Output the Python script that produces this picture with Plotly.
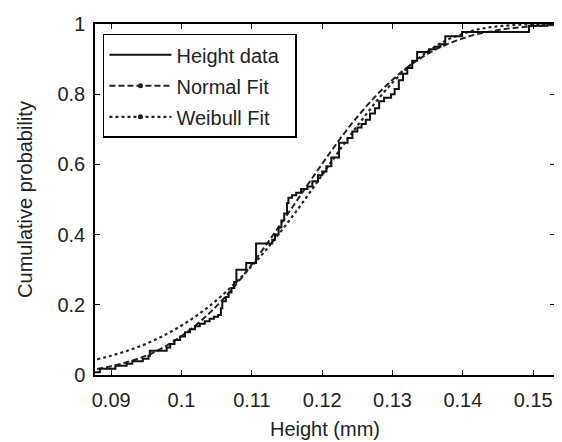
from plotly import graph_objs as go

# empirical CDF of the height data (jump positions and level after each jump)
height_x = [0.0877, 0.0884, 0.0906, 0.0922, 0.0930, 0.0945, 0.0953, 0.0955, 0.0979, 0.0984,
            0.0990, 0.0998, 0.1005, 0.1012, 0.1019, 0.1026, 0.1033, 0.1040, 0.1046, 0.1052,
            0.1056, 0.1058, 0.1063, 0.1067, 0.1071, 0.1075, 0.1078, 0.1092, 0.1106, 0.1129,
            0.1133, 0.1138, 0.1142, 0.1146, 0.1150, 0.1152, 0.1157, 0.1163, 0.1170, 0.1179,
            0.1186, 0.1194, 0.1200, 0.1206, 0.1213, 0.1224, 0.1236, 0.1243, 0.1250, 0.1256,
            0.1262, 0.1268, 0.1275, 0.1281, 0.1288, 0.1298, 0.1303, 0.1309, 0.1315, 0.1321,
            0.1328, 0.1335, 0.1352, 0.1360, 0.1368, 0.1375, 0.1399, 0.1494, 0.1520, 0.1531]
height_p = [0.008, 0.018, 0.026, 0.032, 0.039, 0.046, 0.055, 0.069, 0.078, 0.088,
            0.100, 0.110, 0.122, 0.130, 0.139, 0.146, 0.153, 0.160, 0.166, 0.171,
            0.190, 0.210, 0.222, 0.235, 0.248, 0.265, 0.300, 0.319, 0.375, 0.385,
            0.400, 0.420, 0.440, 0.460, 0.490, 0.505, 0.512, 0.519, 0.530, 0.537,
            0.552, 0.569, 0.580, 0.595, 0.620, 0.662, 0.675, 0.694, 0.705, 0.715,
            0.727, 0.745, 0.760, 0.780, 0.790, 0.800, 0.815, 0.840, 0.858, 0.875,
            0.895, 0.920, 0.928, 0.935, 0.942, 0.965, 0.977, 0.995, 1.000, 1.000]

fit_x = [0.088, 0.090, 0.092, 0.094, 0.096, 0.098, 0.100, 0.102, 0.104, 0.106,
         0.108, 0.110, 0.112, 0.114, 0.116, 0.118, 0.120, 0.122, 0.124, 0.126,
         0.128, 0.130, 0.132, 0.134, 0.136, 0.138, 0.140, 0.142, 0.144, 0.146,
         0.148, 0.150, 0.152, 0.154]
normal_p = [0.017, 0.025, 0.035, 0.048, 0.064, 0.085, 0.111, 0.141, 0.177, 0.218,
            0.264, 0.315, 0.370, 0.427, 0.485, 0.544, 0.602, 0.658, 0.711, 0.759,
            0.803, 0.841, 0.875, 0.903, 0.926, 0.944, 0.959, 0.971, 0.979, 0.986,
            0.990, 0.994, 0.996, 0.997]
weibull_p = [0.045, 0.055, 0.067, 0.081, 0.098, 0.118, 0.141, 0.167, 0.197, 0.231,
             0.269, 0.311, 0.356, 0.406, 0.458, 0.513, 0.570, 0.627, 0.683, 0.736,
             0.787, 0.833, 0.873, 0.907, 0.935, 0.957, 0.972, 0.984, 0.991, 0.995,
             0.998, 0.999, 1.000, 1.000]

x_ticks = [0.09, 0.10, 0.11, 0.12, 0.13, 0.14, 0.15]
x_labels = ['0.09', '0.1', '0.11', '0.12', '0.13', '0.14', '0.15']
y_ticks = [0, 0.2, 0.4, 0.6, 0.8, 1]
y_labels = ['0', '0.2', '0.4', '0.6', '0.8', '1']

family = 'Liberation Sans, Arial, Helvetica'
font = dict(family=family, size=20, color='#222')
pad = '\u00a0\u00a0'  # keeps a little room on the right of the legend box

fig = go.Figure()

# curves (legend entries drawn separately so the fits show a marker dot)
fig.add_trace(go.Scatter(x=fit_x, y=weibull_p, mode='lines', showlegend=False,
                         line=dict(color='#222', width=2.2, dash='dot', shape='spline')))
fig.add_trace(go.Scatter(x=fit_x, y=normal_p, mode='lines', showlegend=False,
                         line=dict(color='#222', width=2, dash='6px,3px', shape='spline')))
fig.add_trace(go.Scatter(x=height_x, y=height_p, mode='lines', name='Height data' + pad,
                         legendgroup='a', line=dict(color='#111', width=2, shape='hv')))

fig.add_trace(go.Scatter(x=[None], y=[None], mode='lines+markers', name='Normal Fit',
                         legendgroup='b', marker=dict(color='#222', size=5),
                         line=dict(color='#222', width=2, dash='6px,3px')))
fig.add_trace(go.Scatter(x=[None], y=[None], mode='lines+markers', name='Weibull Fit',
                         legendgroup='c', marker=dict(color='#222', size=5),
                         line=dict(color='#222', width=2.2, dash='dot')))

axis = dict(showgrid=False, zeroline=False, showline=True, linecolor='black', linewidth=1.5,
            mirror='ticks', ticks='inside', ticklen=5, tickcolor='black', tickwidth=1,
            tickfont=font, ticklabeloverflow='allow')

# page body adds an 8px offset, so the figure is a bit smaller and shifted
fig.update_layout(
  width=554, height=434,
  margin=dict(l=87, r=5, t=9, b=65),
  paper_bgcolor='white', plot_bgcolor='white',
  font=font,
  xaxis=dict(axis, range=[0.0877, 0.1531], tickvals=x_ticks, ticktext=x_labels,
             ticklabelstandoff=6,
             title=dict(text='Height (mm)', font=font, standoff=12)),
  yaxis=dict(axis, range=[0, 1], tickvals=y_ticks, ticktext=y_labels,
             ticklabelstandoff=4,
             title=dict(text='Cumulative probability', font=font, standoff=19)),
  legend=dict(x=0.0173, y=0.972, xanchor='left', yanchor='top',
              bordercolor='black', borderwidth=1.5, bgcolor='white',
              font=dict(family=family, size=20, color='#222'),
              traceorder='grouped', tracegroupgap=2, itemwidth=62),
)

fig.write_html('out.html')
